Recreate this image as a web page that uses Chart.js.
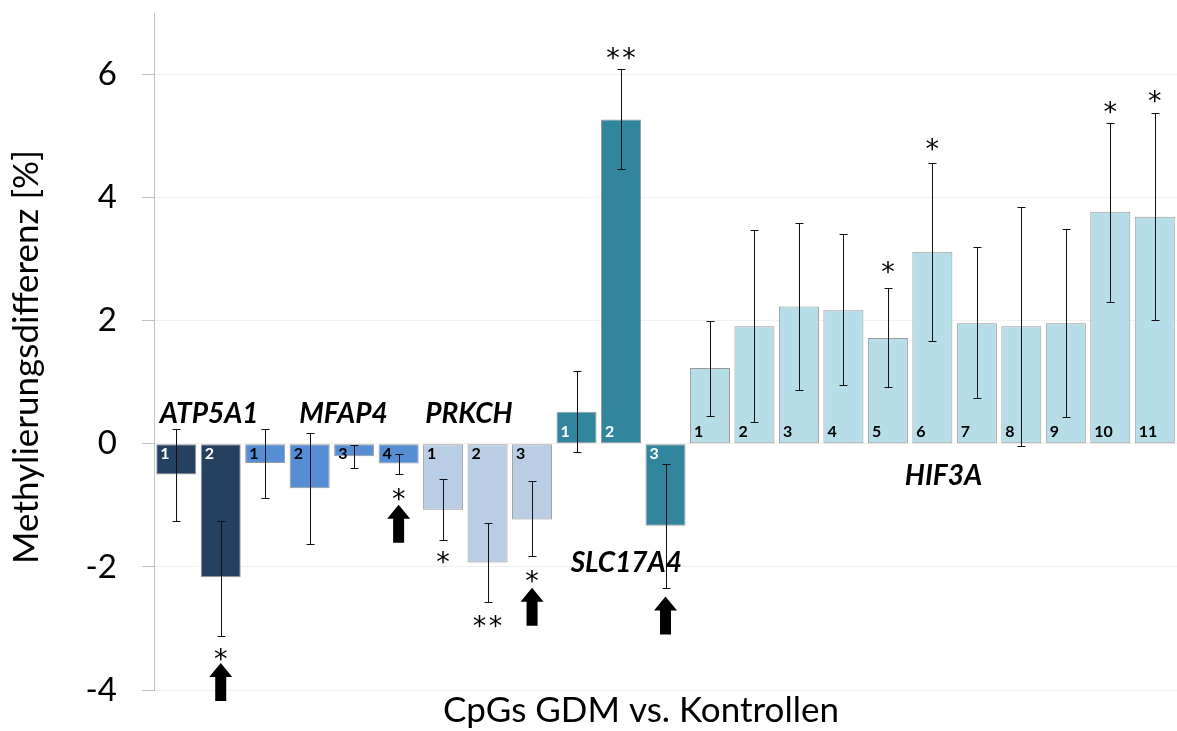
<!DOCTYPE html>
<html><head><meta charset="utf-8">
<script src="https://cdn.jsdelivr.net/npm/chart.js@4.4.0/dist/chart.umd.min.js"></script>
<style>html,body{margin:0;padding:0;background:#fff;} #wrap{width:1177px;height:731px;}</style>
</head><body><div id="wrap"><canvas id="c" width="1177" height="731"></canvas></div>
<script>
// ---- data ----
const genes = ['ATP5A1','ATP5A1','MFAP4','MFAP4','MFAP4','MFAP4','PRKCH','PRKCH','PRKCH','SLC17A4','SLC17A4','SLC17A4',
  'HIF3A','HIF3A','HIF3A','HIF3A','HIF3A','HIF3A','HIF3A','HIF3A','HIF3A','HIF3A','HIF3A'];
const cpgNumbers = ['1','2','1','2','3','4','1','2','3','1','2','3','1','2','3','4','5','6','7','8','9','10','11'];
const values   = [-0.50,-2.17,-0.31,-0.72,-0.20,-0.32,-1.07,-1.93,-1.23, 0.52,5.27,-1.33, 1.23,1.91,2.23,2.17,1.72,3.12,1.96,1.91,1.96,3.77,3.69];
const errUpper = [ 0.24,-1.25, 0.24, 0.18,-0.02,-0.17,-0.57,-1.29,-0.60, 1.18,6.09,-0.33, 2.00,3.47,3.59,3.41,2.53,4.56,3.20,3.85,3.49,5.21,5.37];
const errLower = [-1.25,-3.13,-0.88,-1.63,-0.39,-0.49,-1.56,-2.57,-1.83,-0.13,4.46,-2.35, 0.45,0.36,0.88,0.96,0.93,1.67,0.75,-0.03,0.44,2.31,2.01];
const significance = ['','*','','','','*','*','**','*','','**','', '','','','','*','*','','','','*','*'];
const starCenter = [null,-3.43,null,null,null,-0.83,-1.84,-2.88,-2.15,null,6.34,null, null,null,null,null,2.86,4.87,null,null,null,5.46,5.65];
const arrowTip   = [null,-3.56,null,null,null,-0.99,null,null,-2.34,null,null,-2.48, null,null,null,null,null,null,null,null,null,null,null];
const geneLabels = ['ATP5A1','MFAP4','PRKCH','SLC17A4','HIF3A'];
const geneLabelX = [0.74, 3.76, 6.58, 10.12, 17.25];   // category position
const geneLabelY = [0.34, 0.34, 0.34, -2.09, -0.67];   // value position (baseline)
const yTicks = [-4,-2,0,2,4,6];
const yTitle = 'Methylierungsdifferenz [%]';
const xTitle = 'CpGs GDM vs. Kontrollen';

// ---- styles ----
const geneColors = {ATP5A1:'#254061', MFAP4:'#558ED5', PRKCH:'#B9CDE5', SLC17A4:'#31859C', HIF3A:'#B7DEE8'};
const numberColors = {ATP5A1:'#ffffff', MFAP4:'#000000', PRKCH:'#000000', SLC17A4:'#ffffff', HIF3A:'#000000'};
const FONT = 'Lato';

const labels = genes.map((g,i)=>g+' '+cpgNumbers[i]);

const annot = {
  id:'annot',
  afterDraw(chart){
    const ctx = chart.ctx, xs = chart.scales.x, ys = chart.scales.y;
    ctx.save();
    // error bars
    ctx.strokeStyle = '#111'; ctx.lineWidth = 1;
    for (let i=0;i<values.length;i++){
      const x = Math.round(xs.getPixelForValue(i))+0.5;
      const yt = Math.round(ys.getPixelForValue(errUpper[i]))+0.5;
      const yb = Math.round(ys.getPixelForValue(errLower[i]))+0.5;
      ctx.beginPath();
      ctx.moveTo(x,yt); ctx.lineTo(x,yb);
      ctx.moveTo(x-4,yt); ctx.lineTo(x+4,yt);
      ctx.moveTo(x-4,yb); ctx.lineTo(x+4,yb);
      ctx.stroke();
    }
    // cpg numbers
    ctx.font = 'bold 16px '+FONT;
    ctx.textAlign = 'left';
    const bars = chart.getDatasetMeta(0).data;
    const y0 = ys.getPixelForValue(0);
    for (let i=0;i<values.length;i++){
      const b = bars[i];
      const left = b.x - b.width/2;
      ctx.fillStyle = numberColors[genes[i]];
      ctx.textBaseline='alphabetic';
      if (values[i] < 0){ ctx.fillText(cpgNumbers[i], left+4, y0+15); }
      else { ctx.fillText(cpgNumbers[i], left+4, y0-7); }
    }
    // stars
    ctx.fillStyle = '#000';
    ctx.font = '27px "DejaVu Sans"';
    ctx.textAlign = 'center';
    ctx.textBaseline = 'alphabetic';
    const m = ctx.measureText('*');
    const off = (m.actualBoundingBoxAscent - m.actualBoundingBoxDescent)/2;
    for (let i=0;i<values.length;i++){
      if (!significance[i]) continue;
      const n = significance[i].length;
      const cx = xs.getPixelForValue(i);
      const base = ys.getPixelForValue(starCenter[i]) + off;
      for (let k=0;k<n;k++){
        ctx.fillText('*', cx + (k-(n-1)/2)*16, base);
      }
    }
    // arrows
    for (let i=0;i<values.length;i++){
      if (arrowTip[i]===null) continue;
      const cx = xs.getPixelForValue(i), ty = ys.getPixelForValue(arrowTip[i]);
      const L=38, hw=11.5, hh=14, sw=5.5;
      ctx.beginPath();
      ctx.moveTo(cx,ty); ctx.lineTo(cx+hw,ty+hh); ctx.lineTo(cx+sw,ty+hh); ctx.lineTo(cx+sw,ty+L);
      ctx.lineTo(cx-sw,ty+L); ctx.lineTo(cx-sw,ty+hh); ctx.lineTo(cx-hw,ty+hh); ctx.closePath();
      ctx.fill();
    }
    // gene labels
    ctx.font = 'italic bold 28px '+FONT;
    ctx.textAlign = 'center'; ctx.textBaseline='alphabetic';
    for (let k=0;k<geneLabels.length;k++){
      ctx.fillText(geneLabels[k], xs.getPixelForValue(geneLabelX[k]), ys.getPixelForValue(geneLabelY[k]));
    }
    // axis titles
    ctx.font = '35px '+FONT;
    ctx.textAlign='center'; ctx.textBaseline='alphabetic';
    ctx.fillText(xTitle, 641, 722);
    ctx.translate(38, 357); ctx.rotate(-Math.PI/2);
    ctx.fillText(yTitle, 0, 0);
    ctx.restore();
  }
};

new Chart(document.getElementById('c'), {
  type:'bar',
  data:{ labels, datasets:[{
    data: values,
    backgroundColor: genes.map(g=>geneColors[g]),
    borderColor: 'rgba(120,120,120,0.75)',
    borderWidth: 1,
    borderSkipped: false,
    barPercentage: 0.9,
    categoryPercentage: 1.0
  }]},
  options:{
    responsive:false, animation:false,
    layout:{padding:{top:13,right:0,left:0,bottom:0}},
    plugins:{legend:{display:false}, tooltip:{enabled:false}},
    scales:{
      x:{
        grid:{display:false}, border:{display:false},
        ticks:{display:false},
        afterFit(s){ s.height = 41; s.paddingLeft=0; s.paddingRight=0; }
      },
      y:{
        min:-4, max:7,
        afterBuildTicks(s){ s.ticks = yTicks.map(v=>({value:v})); },
        grid:{color:'#f0f0f0', tickColor:'#bfbfbf', tickLength:12, drawTicks:true},
        border:{display:true, color:'#bfbfbf', width:1},
        ticks:{font:{family:FONT, size:33, lineHeight:0.7}, color:'#000', padding:25},
        afterFit(s){ s.width = 154; s.paddingTop=0; s.paddingBottom=0; }
      }
    }
  },
  plugins:[annot]
});
</script></body></html>
